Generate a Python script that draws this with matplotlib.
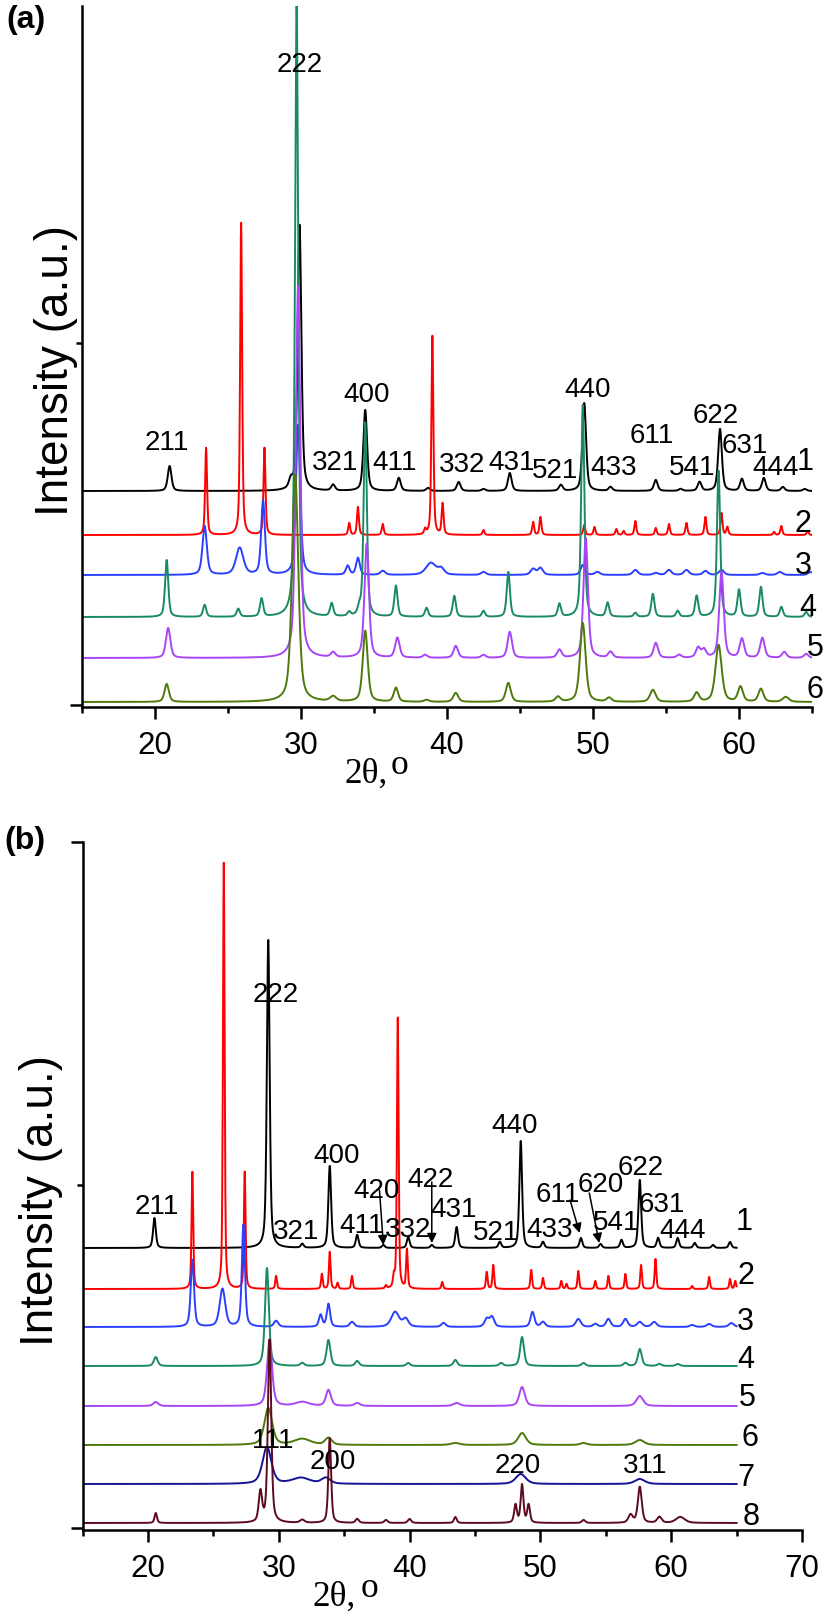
import numpy as np
import matplotlib
matplotlib.use("Agg")
import matplotlib.pyplot as plt
from matplotlib.ticker import MultipleLocator, FixedLocator

plt.rcParams['font.family'] = ['Liberation Sans', 'DejaVu Sans']

# ---------------- Panel (a) data: peaks (2theta, height a.u., FWHM) ----------------
A_OFFSETS = [214, 170, 130, 88, 47, 3]
A_COLORS = ['#000000', '#ff0000', '#2a40ff', '#1a8a64', '#a846f5', '#4e7a0c']
A_NAMES = ['1', '2', '3', '4', '5', '6']

A1_POS = [21.0, 29.3, 29.9, 32.2, 34.4, 36.7, 38.7, 40.8, 42.5, 44.3, 47.8, 49.4, 51.2, 54.3, 56.0, 57.3, 58.7, 60.2, 61.7, 63.0, 64.5]
A1_HGT = [25, 8, 266, 6, 81, 13, 3, 9, 2, 18, 6, 88, 4, 11, 2, 9, 62, 12, 13, 4, 2]
A1_WID = 0.3

A2_POS = [23.5, 25.9, 27.5, 33.3, 33.9, 35.6, 38.5, 39.0, 39.7, 42.5, 45.9, 46.4, 49.4, 50.1, 51.6, 52.1, 52.9, 54.3, 55.2, 56.4, 57.7, 58.8, 59.2, 62.4, 62.9, 64.7]
A2_HGT = [87, 312, 87, 12, 28, 11, 5, 199, 31, 5, 13, 18, 10, 8, 6, 4, 14, 7, 11, 12, 18, 22, 8, 3, 9, 4]
A2_WID = 0.16

A3_POS = [23.4, 25.8, 27.4, 29.8, 33.2, 33.9, 35.6, 38.9, 39.6, 42.5, 45.9, 46.4, 49.3, 50.3, 52.9, 54.3, 55.2, 56.4, 57.7, 58.8, 61.6, 62.8, 64.9]
A3_HGT = [49, 27, 74, 150, 9, 17, 4, 12, 6, 3, 6, 7, 10, 3, 5, 2, 5, 5, 4, 5, 2, 3, 3]
A3_WID = [0.35, 0.6, 0.3, 0.35, 0.3, 0.3, 0.4, 0.8, 0.5, 0.4, 0.4, 0.4, 0.35, 0.4, 0.4, 0.4, 0.4, 0.4, 0.4, 0.4, 0.4, 0.4, 0.4]

A4_POS = [20.8, 23.4, 25.7, 27.3, 29.7, 32.1, 33.3, 34.0, 34.4, 36.5, 38.6, 40.5, 42.5, 44.2, 47.7, 49.3, 51.0, 52.9, 54.1, 55.8, 57.1, 58.6, 60.0, 61.5, 62.9, 64.6]
A4_HGT = [57, 12, 8, 18, 614, 13, 4, 7, 194, 31, 9, 21, 6, 45, 13, 212, 14, 4, 23, 6, 21, 146, 27, 30, 10, 5]
A4_WID = 0.26

A5_POS = [20.9, 29.8, 32.2, 34.5, 36.6, 38.5, 40.6, 42.5, 44.3, 47.7, 49.5, 51.2, 54.3, 55.9, 57.2, 57.6, 58.8, 60.2, 61.6, 63.1, 64.6]
A5_HGT = [30, 372, 5, 114, 20, 3, 12, 3, 26, 8, 120, 6, 15, 3, 10, 8, 86, 19, 20, 6, 4]
A5_WID = 0.36

A6_POS = [20.8, 29.6, 32.2, 34.4, 36.5, 38.6, 40.6, 44.2, 47.6, 49.3, 51.1, 54.1, 57.1, 58.6, 60.1, 61.5, 63.2]
A6_HGT = [18, 228, 5, 71, 14, 2, 9, 19, 5, 79, 4, 12, 9, 57, 15, 13, 5]
A6_WID = [0.35, 0.5, 0.5, 0.4, 0.35, 0.4, 0.4, 0.4, 0.4, 0.45, 0.4, 0.45, 0.4, 0.5, 0.4, 0.4, 0.5]

A_LBL_TXT = ['211', '222', '321', '400', '411', '332', '431', '521', '440', '433', '611', '622', '541', '631', '444']
A_LBL_X = [20.8, 29.9, 32.3, 34.5, 36.4, 41.0, 44.4, 47.4, 49.6, 51.4, 54.0, 58.4, 56.8, 60.4, 62.5]
A_LBL_Y = [265, 643, 245, 313, 245, 243, 245, 237, 318, 240, 272, 292, 240, 262, 240]
A_NUM_X = [64.5, 64.4, 64.4, 64.7, 65.2, 65.2]
A_NUM_Y = [247, 185, 142, 100, 60, 18]

# ---------------- Panel (b) data ----------------
B_OFFSETS = [280, 239, 201, 162, 122, 83, 44, 5]
B_COLORS = ['#000000', '#ff0000', '#2a40ff', '#1a8a64', '#a846f5', '#4e7a0c', '#141496', '#5c0a1e']
B_NAMES = ['1', '2', '3', '4', '5', '6', '7', '8']

B1_POS = [20.5, 29.2, 31.8, 33.9, 36.0, 38.0, 39.9, 41.7, 43.6, 46.9, 48.5, 50.2, 53.1, 54.6, 56.2, 57.6, 59.0, 60.5, 61.8, 63.2, 64.5]
B1_HGT = [30, 308, 4, 82, 13, 3, 11, 3, 21, 6, 107, 6, 10, 4, 8, 68, 10, 10, 5, 3, 6]
B1_WID = 0.25

B2_POS = [23.4, 25.8, 27.4, 29.8, 33.3, 33.9, 34.5, 35.6, 38.2, 38.8, 39.1, 39.8, 42.5, 45.9, 46.4, 49.3, 50.2, 51.6, 52.0, 52.9, 54.2, 55.2, 56.5, 57.7, 58.8, 61.6, 62.9, 64.5, 64.9]
B2_HGT = [117, 426, 117, 13, 15, 37, 6, 13, 3, 10, 271, 39, 7, 17, 24, 19, 11, 8, 5, 18, 8, 13, 15, 24, 30, 3, 12, 10, 8]
B2_WID = 0.15

B3_POS = [23.4, 25.7, 27.3, 29.8, 33.2, 33.8, 35.6, 38.9, 39.7, 42.6, 45.9, 46.3, 49.4, 50.2, 52.9, 54.2, 55.2, 56.5, 57.6, 58.7, 61.6, 62.9, 64.6]
B3_HGT = [67, 38, 102, 6, 12, 23, 5, 15, 8, 4, 8, 10, 15, 5, 8, 3, 8, 8, 5, 5, 2, 3, 4]
B3_WID = [0.3, 0.5, 0.28, 0.4, 0.3, 0.3, 0.4, 0.7, 0.5, 0.4, 0.4, 0.4, 0.35, 0.4, 0.45, 0.4, 0.4, 0.4, 0.45, 0.45, 0.4, 0.45, 0.45]

B4_POS = [20.6, 29.1, 31.8, 33.8, 36.0, 39.9, 43.5, 47.0, 48.6, 53.3, 56.5, 57.6, 59.1, 60.5]
B4_HGT = [9, 98, 3, 26, 5, 3, 6, 3, 29, 3, 3, 17, 2, 2]
B4_WID = 0.35

B5_POS = [20.6, 29.3, 31.8, 33.8, 36.0, 43.6, 48.6, 57.6]
B5_HGT = [4, 66, 4, 16, 3, 3, 19, 10]
B5_WID = [0.45, 0.45, 1.2, 0.45, 0.5, 0.6, 0.5, 0.6]

B6_POS = [29.2, 31.8, 33.8, 43.5, 48.6, 53.3, 57.6]
B6_HGT = [37, 6, 7, 2, 12, 2, 5]
B6_WID = [0.7, 1.5, 0.6, 0.8, 0.7, 0.6, 0.8]

B7_POS = [29.1, 31.7, 33.6, 48.5, 57.6]
B7_HGT = [37, 6, 6, 10, 5]
B7_WID = [0.8, 1.6, 0.8, 0.9, 0.9]

B8_POS = [20.6, 28.6, 29.3, 31.8, 33.9, 36.0, 38.2, 40.0, 43.5, 48.1, 48.6, 49.1, 53.3, 56.9, 57.6, 59.1, 60.7]
B8_HGT = [10, 30, 183, 3, 85, 4, 3, 4, 6, 18, 38, 18, 3, 8, 36, 6, 6]
B8_WID = [0.22, 0.3, 0.3, 0.4, 0.25, 0.3, 0.3, 0.3, 0.25, 0.25, 0.25, 0.25, 0.3, 0.4, 0.35, 0.4, 0.8]

B_LBL_TXT = ['211', '222', '321', '400', '411', '420', '332', '422', '431', '521', '440', '433', '611', '620', '541', '622', '631', '444', '111', '200', '220', '311']
B_LBL_X = [20.7, 29.8, 31.3, 34.4, 36.3, 37.5, 39.9, 41.6, 43.4, 46.6, 48.0, 50.7, 51.3, 54.6, 55.8, 57.7, 59.3, 60.9, 29.6, 34.1, 48.3, 58.0]
B_LBL_Y = [324, 536, 299, 375, 305, 340, 301, 351, 321, 298, 405, 301, 336, 346, 308, 363, 326, 300, 90, 69, 65, 65]
B_NUM_X = [65.6, 65.7, 65.65, 65.7, 65.8, 66.0, 65.7, 66.1]
B_NUM_Y = [310, 255, 209, 171, 133, 93, 53, 15]
# arrows: (x_start, y_start, x_end, y_end)
B_ARROWS = [(37.7, 338, 38.0, 283), (41.7, 346, 41.7, 285), (52.27, 328, 53.0, 295), (53.74, 335, 54.5, 285)]

A_PEAKS = [(A1_POS, A1_HGT, A1_WID), (A2_POS, A2_HGT, A2_WID), (A3_POS, A3_HGT, A3_WID),
           (A4_POS, A4_HGT, A4_WID), (A5_POS, A5_HGT, A5_WID), (A6_POS, A6_HGT, A6_WID)]
B_PEAKS = [(B1_POS, B1_HGT, B1_WID), (B2_POS, B2_HGT, B2_WID), (B3_POS, B3_HGT, B3_WID),
           (B4_POS, B4_HGT, B4_WID), (B5_POS, B5_HGT, B5_WID), (B6_POS, B6_HGT, B6_WID),
           (B7_POS, B7_HGT, B7_WID), (B8_POS, B8_HGT, B8_WID)]


def pattern(x, pos, hgt, wid, eta=0.5):
    wid = np.broadcast_to(np.asarray(wid, float), (len(pos),))
    y = np.zeros_like(x)
    for p, h, w in zip(pos, hgt, wid):
        u = (x - p) / w
        y += h * (eta / (1 + 4 * u ** 2) + (1 - eta) * np.exp(-4 * np.log(2) * u ** 2))
    return y


W, H = 827, 1617
fig = plt.figure(figsize=(W / 100, H / 100), dpi=100)


def fx(px):
    return px / W


def fy(py):
    return 1 - py / H


ax_a = fig.add_axes([fx(82), fy(707), fx(812) - fx(82), fy(6) - fy(707)])
ax_b = fig.add_axes([fx(82.5), fy(1530), fx(802) - fx(82.5), fy(842) - fy(1530)])

x = np.linspace(15, 65, 2501)

for ax, peaks, offs, cols, names, nx, ny in [
        (ax_a, A_PEAKS, A_OFFSETS, A_COLORS, A_NAMES, A_NUM_X, A_NUM_Y),
        (ax_b, B_PEAKS, B_OFFSETS, B_COLORS, B_NAMES, B_NUM_X, B_NUM_Y)]:
    for (pos, hgt, wid), off, c in zip(peaks, offs, cols):
        ax.plot(x, off + pattern(x, pos, hgt, wid), color=c, lw=1.4, solid_joinstyle='round')
    for n, tx, ty in zip(names, nx, ny):
        ax.text(tx, ty, n, fontsize=22, ha='center', va='center_baseline', clip_on=False)

for t, tx, ty in zip(A_LBL_TXT, A_LBL_X, A_LBL_Y):
    ax_a.text(tx, ty, t, fontsize=20, ha='center', va='center_baseline')
for t, tx, ty in zip(B_LBL_TXT, B_LBL_X, B_LBL_Y):
    ax_b.text(tx, ty, t, fontsize=20, ha='center', va='center_baseline')
for (x0, y0, x1, y1) in B_ARROWS:
    ax_b.annotate('', xy=(x1, y1), xytext=(x0, y0),
                  arrowprops=dict(arrowstyle='-|>', color='k', lw=1.1, mutation_scale=14,
                                  shrinkA=0, shrinkB=0))

# axes styling
for ax, xmax, ymax, ymin_tick in [(ax_a, 65, 699, 362), (ax_b, 70, 686, 343)]:
    ax.set_xlim(15, xmax)
    ax.set_ylim(-2, ymax)
    ax.spines['top'].set_visible(False)
    ax.spines['right'].set_visible(False)
    for s in ('left', 'bottom'):
        ax.spines[s].set_linewidth(1.8)
    ax.xaxis.set_major_locator(MultipleLocator(10))
    ax.xaxis.set_minor_locator(MultipleLocator(5))
    ax.yaxis.set_major_locator(FixedLocator([0, 2 * ymin_tick]))
    ax.yaxis.set_minor_locator(FixedLocator([ymin_tick]))
    ax.set_yticklabels([])
    ax.tick_params(axis='both', which='major', direction='out', length=8.5, width=1.8,
                   labelsize=22.5, pad=9)
    ax.tick_params(axis='both', which='minor', direction='out', length=4.5, width=1.8)
    ax.tick_params(axis='y', which='both', labelleft=False)

# x labels  (2θ, with a raised "o")
SERIF = ['Liberation Serif', 'DejaVu Serif']
for (px, py) in [(345, 783), (313, 1606)]:
    fig.text(fx(px), fy(py), '2θ,', family=SERIF, fontsize=25.5, ha='left', va='baseline')
for (px, py) in [(391, 774), (361, 1597)]:
    fig.text(fx(px), fy(py), 'o', family=SERIF, fontsize=25.5, ha='left', va='baseline')

# y labels
for (px, py) in [(68, 370), (53, 1200)]:
    fig.text(fx(px), fy(py), 'Intensity (a.u.)', fontsize=33, rotation=90,
             rotation_mode='anchor', ha='center', va='baseline')

# panel letters
fig.text(fx(26), fy(20), '(a)', fontsize=23, fontweight='bold', ha='center', va='center')
fig.text(fx(25), fy(841), '(b)', fontsize=23, fontweight='bold', ha='center', va='center')

fig.savefig('out.png', dpi=100)
